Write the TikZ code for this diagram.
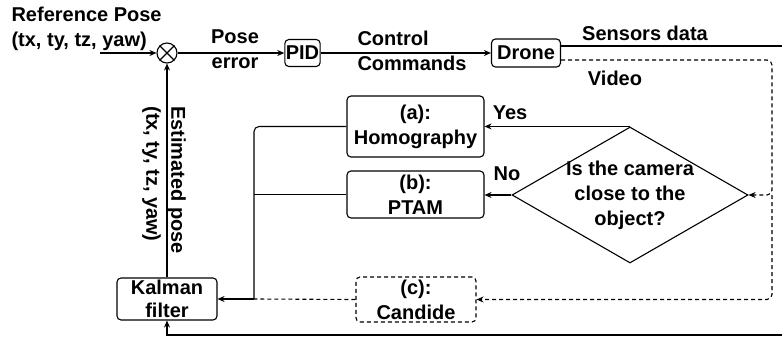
\documentclass[tikz,border=0pt]{standalone}
\usepackage{fontspec}
\setmainfont{Liberation Sans}
\usetikzlibrary{shapes.geometric, arrows.meta, positioning}

\tikzset{
  blockbox/.style={draw, rounded corners=4pt, align=center, inner sep=1pt},
  lbl/.style={align=center, inner sep=0pt},
  arr/.style={-{Stealth[length=7pt,width=6pt]}},
  dashline/.style={dash pattern=on 4pt off 3pt},
}

\begin{document}
\begin{tikzpicture}[x=1pt, y=-1pt, line width=1.1pt,
  font=\fontsize{20}{25}\selectfont\bfseries]
  \useasboundingbox (0,0) rectangle (782,340);

  % loop blocks
  \node[draw, circle, minimum size=20pt, inner sep=0pt] (sum) at (167,53) {};
  \draw (sum.north west) -- (sum.south east) (sum.north east) -- (sum.south west);
  \node[blockbox, minimum width=35pt, minimum height=27pt] (pid) at (302.5,53) {PID};
  \node[blockbox, minimum width=69pt, minimum height=28pt] (drone) at (526,53) {Drone};

  % vision branch
  \node[draw, diamond, aspect=1.735, minimum width=236pt, minimum height=136pt,
        inner sep=0pt] (dec) at (630,195) {};
  \node[lbl] (decq) at (630,195) {Is the camera\\close to the\\object?};
  \node[blockbox, minimum width=137pt, minimum height=61pt] (homog) at (415.5,126.5)
    {(a):\\Homography};
  \node[blockbox, minimum width=137pt, minimum height=47pt] (ptam) at (415.5,194.5)
    {(b):\\PTAM};
  \node[blockbox, dashline, minimum width=120pt, minimum height=45pt] (candide) at (416,299.5)
    {(c):\\Candide};
  \node[blockbox, minimum width=100pt, minimum height=42pt,
        font=\fontsize{20}{23}\selectfont\bfseries] (kalman) at (167,299) {Kalman\\filter};

  \coordinate (refin) at (100,53);
  \coordinate (sensr) at (790,335);
  \coordinate (vsplit) at (772,195);
  \coordinate (jn) at (254,299);

  % forward path
  \draw[arr] (refin) -- (sum.west);
  \draw[arr] (sum.east) -- (pid.west);
  \draw[arr] (pid.east) -- (drone.west);
  \node[lbl, anchor=west, align=left] (reflbl) at (11,28.5)
    {Reference Pose\\(tx, ty, tz, yaw)};
  \node[lbl] (errlbl) at (235,49) {Pose\\error};
  \node[lbl, anchor=west, align=left] (cmdlbl) at (357,51) {Control\\Commands};

  % outputs of the drone
  \draw[arr] ([yshift=7pt]drone.east) -| (sensr) -- (kalman.south |- sensr) -- (kalman.south);
  \draw[arr, dashline, rounded corners=5pt] ([yshift=-7pt]drone.east) -| (vsplit) -- (dec.east);
  \draw[arr, dashline, rounded corners=5pt] (vsplit) |- (candide.east);
  \node[lbl] (senslbl) at (645,33) {Sensors data};
  \node[lbl] (vidlbl) at (615,78) {Video};

  % decision
  \draw[arr] (dec.north) -- (dec.north -| homog.east);
  \draw[arr] (dec.west) -- (dec.west -| ptam.east);
  \node[lbl] (yeslbl) at (510,113) {Yes};
  \node[lbl] (nolbl) at (507,174) {No};

  % estimates to the filter
  \draw[rounded corners=5pt] (homog.west) -| (jn);
  \draw (ptam.west) -- (ptam.west -| jn);
  \draw[dashline] (candide.west) -- (jn);
  \draw[arr] (jn) -- (kalman.east);

  % feedback
  \draw[arr] (kalman.north) -- (sum.south);
  \node[lbl, rotate=-90] (estlbl) at (176.5,180) {Estimated pose};
  \node[lbl, rotate=-90] (estvec) at (151.5,174) {(tx, ty, tz, yaw)};
\end{tikzpicture}
\end{document}
